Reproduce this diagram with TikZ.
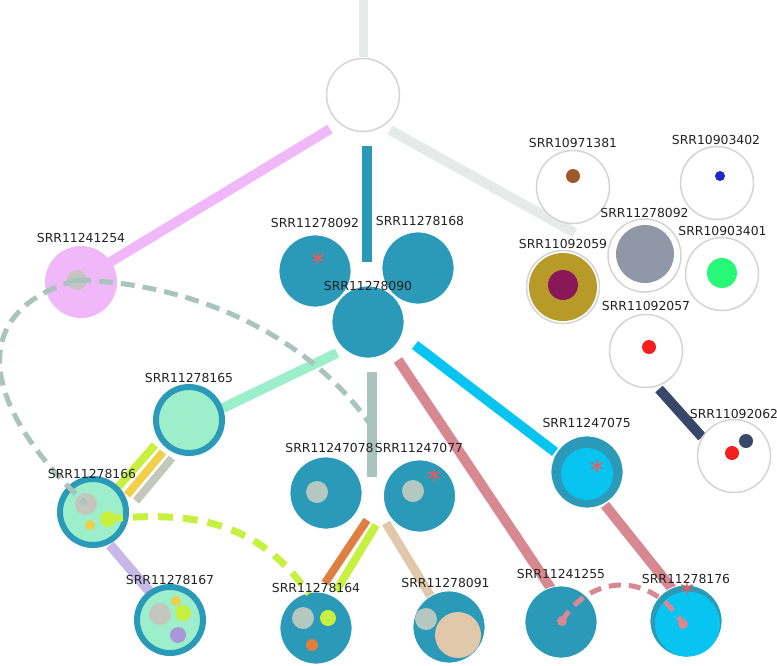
\documentclass[tikz,border=0pt]{standalone}
\usepackage{fontspec}
\setmainfont{DejaVu Sans}
\usetikzlibrary{calc}
\definecolor{cTeal}{HTML}{2A9AB8}
\definecolor{cMint}{HTML}{9DEFCB}
\definecolor{cPink}{HTML}{F0B8F8}
\definecolor{cCyan}{HTML}{08C4F0}
\definecolor{cGreyL}{HTML}{E6EAE9}
\definecolor{cGreyG}{HTML}{A8C4BC}
\definecolor{cRose}{HTML}{D88890}
\definecolor{cNavy}{HTML}{384868}
\definecolor{cLav}{HTML}{C8B8E8}
\definecolor{cYG}{HTML}{C8F040}
\definecolor{cYel}{HTML}{F0D048}
\definecolor{cGreyC}{HTML}{C4C8BC}
\definecolor{cOrange}{HTML}{E08040}
\definecolor{cTan}{HTML}{E2C8AA}
\definecolor{cInner}{HTML}{B4C8C0}
\definecolor{cGold}{HTML}{B89A28}
\definecolor{cMaroon}{HTML}{8A1858}
\definecolor{cSlate}{HTML}{9098A8}
\definecolor{cGreen}{HTML}{28F878}
\definecolor{cRed}{HTML}{F42020}
\definecolor{cBlue}{HTML}{2028C0}
\definecolor{cBrown}{HTML}{A05828}
\definecolor{cPurple}{HTML}{A898D8}
\definecolor{cAst}{HTML}{F05858}
\definecolor{cBorder}{HTML}{D4D4D4}
\definecolor{cText}{HTML}{222222}
\definecolor{cPinkGrey}{HTML}{C8C4C0}
\tikzset{
  tealnode/.style={circle, fill=cTeal, draw=white, line width=0.8pt, minimum size=72pt, inner sep=0pt, outer sep=0pt},
  mintnode/.style={circle, fill=cMint, draw=cTeal, line width=6pt, minimum size=66pt, inner sep=0pt, outer sep=0pt},
  whitenode/.style={circle, fill=white, draw=cBorder, line width=1.5pt, minimum size=73pt, inner sep=0pt, outer sep=0pt},
  spot/.style={circle, inner sep=0pt, outer sep=0pt, minimum size=#1},
  lab/.style={anchor=base, inner sep=0pt, text=cText, font=\fontsize{12.4}{14}\selectfont},
  wide/.style={line width=10pt},
  mid/.style={line width=8pt},
  dashgrey/.style={draw=cGreyG, line width=5pt, dash pattern=on 14pt off 8pt},
  dashyg/.style={draw=cYG, line width=7pt, dash pattern=on 15pt off 10pt},
  dashrose/.style={draw=cRose, line width=5pt, dash pattern=on 12pt off 8pt},
  astmark/.pic={\draw[cAst, line width=1.4pt] (0,-6.5)--(0,6.5) (-5.6,-3.25)--(5.6,3.25) (-5.6,3.25)--(5.6,-3.25);}
}
\begin{document}
\begin{tikzpicture}[x=1pt,y=-1pt]
\useasboundingbox (0,0) rectangle (777,665);
% ---------- node positions ----------
\coordinate (root) at (363,95);
\coordinate (n254) at (81,282);
\coordinate (n165) at (189,420);
\coordinate (n166) at (93,512);
\coordinate (n167) at (170,620);
\coordinate (n092) at (315,271);
\coordinate (n168) at (418,268);
\coordinate (n090) at (368,322);
\coordinate (n078) at (326,493);
\coordinate (n077) at (419.5,496);
\coordinate (n164) at (316,628);
\coordinate (n091) at (449,627);
\coordinate (n255) at (561,622);
\coordinate (n176) at (686,621);
\coordinate (n075) at (587,472);
\coordinate (n381) at (573,187);
\coordinate (n402) at (717,183);
\coordinate (r092) at (644.5,255.5);
\coordinate (n401) at (722,274);
\coordinate (n059) at (563,287);
\coordinate (n057) at (646,351);
\coordinate (n062) at (734,456);
\coordinate (g7) at (372,477);
% ---------- solid connectors ----------
\draw[wide, cGreyL, line width=9pt] ($(root)+(0,-96)$) -- ($(root)+(0,-38)$);
\draw[wide, cPink] ($(root)+(-33,34)$) -- ($(n254)+(26,-18)$);
\draw[wide, cTeal] ($(root)+(4,51)$) -- ($(n090)+(-1,-60)$);
\draw[wide, cGreyL] ($(root)+(27,35)$) -- ($(r092)+(-69.5,-22.5)$);
\draw[wide, cMint] ($(n090)+(-31,31)$) -- ($(n165)+(34,-12)$);
\draw[wide, cGreyG] ($(n090)+(4,50)$) -- (g7);
\draw[wide, cRose] ($(n090)+(30,38)$) -- ($(n255)+(-9,-32)$);
\draw[wide, cCyan] ($(n090)+(47,23)$) -- ($(n075)+(-32,-20)$);
\draw[wide, cRose] ($(n075)+(18,33)$) -- ($(n176)+(-13,-31)$);
\draw[wide, cNavy] ($(n057)+(13,38)$) -- ($(n062)+(-32,-19)$);
\draw[wide, cLav] ($(n166)+(17,33)$) -- ($(n167)+(-20,-28)$);
\draw[mid, cYG] ($(n165)+(-34,25)$) -- ($(n166)+(25,-25)$);
\draw[mid, cYel] ($(n165)+(-26,32)$) -- ($(n166)+(34,-17)$);
\draw[mid, cGreyC] ($(n165)+(-17,38)$) -- ($(n166)+(43,-11)$);
\draw[mid, cOrange] ($(n078)+(41,27)$) -- ($(n164)+(9,-45)$);
\draw[mid, cYG] ($(n078)+(50,32)$) -- ($(n164)+(20,-37)$);
\draw[line width=9pt, cTan] ($(n077)+(-33.5,27)$) -- ($(n091)+(-16,-27)$);
% ---------- circles ----------
\node[whitenode] (c-root) at (root) {};
\node[circle, fill=cPink, minimum size=72pt, inner sep=0pt] (c254) at (n254) {};
\node[mintnode] (c165) at (n165) {};
\node[mintnode] (c166) at (n166) {};
\node[mintnode] (c167) at (n167) {};
\node[tealnode] (c092) at (n092) {};
\node[tealnode] (c168) at (n168) {};
\node[tealnode] (c090) at (n090) {};
\node[tealnode] (c078) at (n078) {};
\node[tealnode] (c077) at (n077) {};
\node[tealnode] (c164) at (n164) {};
\node[tealnode] (c091) at (n091) {};
\node[tealnode] (c255) at (n255) {};
\node[tealnode] (c176) at (n176) {};
\node[tealnode] (c075) at (n075) {};
\node[whitenode] (c381) at (n381) {};
\node[whitenode] (c402) at (n402) {};
\node[whitenode] (c-r092) at (r092) {};
\node[whitenode] (c401) at (n401) {};
\node[whitenode] (c059) at (n059) {};
\node[whitenode] (c057) at (n057) {};
\node[whitenode] (c062) at (n062) {};
% ---------- inner spots ----------
\node[spot=20pt, fill=cPinkGrey] (s254) at (77,280) {};
\node[spot=22pt, fill=cGreyC] (s166a) at (86,504) {};
\node[spot=16pt, fill=cYG] (s166b) at (108,519) {};
\node[spot=10pt, fill=cYel] (s166c) at (90,525) {};
\node[spot=22pt, fill=cGreyC] (s167a) at (160,614) {};
\node[spot=10pt, fill=cYel] (s167b) at (176,601) {};
\node[spot=16pt, fill=cYG] (s167c) at (183,613) {};
\node[spot=16pt, fill=cPurple] (s167d) at (178,635) {};
\node[spot=22pt, fill=cInner] (s078) at (317,492) {};
\node[spot=22pt, fill=cInner] (s077) at (413,491) {};
\node[spot=22pt, fill=cInner] (s164a) at (303,618) {};
\node[spot=16pt, fill=cYG] (s164b) at (328,618) {};
\node[spot=12pt, fill=cOrange] (s164c) at (312,645) {};
\node[spot=22pt, fill=cInner] (s091a) at (426,619) {};
\node[spot=46pt, fill=cTan] (s091b) at (458,635) {};
\node[spot=52pt, fill=cCyan] (s075) at (587,474) {};
\node[spot=65pt, fill=cCyan] (s176) at (687.5,624) {};
\node[spot=10pt, fill=cRose] (s255) at (562,621) {};
\node[spot=10pt, fill=cRose] (s176b) at (683,624) {};
\node[spot=14pt, fill=cBrown] (s381) at (573,176) {};
\node[spot=10pt, fill=cBlue] (s402) at (720,176) {};
\node[spot=58pt, fill=cSlate] (sr092) at (645,254) {};
\node[spot=30pt, fill=cGreen] (s401) at (722,273) {};
\node[spot=68pt, fill=cGold] (s059a) at (563,287) {};
\node[spot=30pt, fill=cMaroon] (s059b) at (563,285) {};
\node[spot=14pt, fill=cRed] (s057) at (649,347) {};
\node[spot=14pt, fill=cRed] (s062a) at (732,453) {};
\node[spot=14pt, fill=cNavy] (s062b) at (746,441) {};
% ---------- dashed connectors ----------
\coordinate (e254) at (370,424);
\coordinate (e164) at (309,594);
\draw[dashgrey] (s254.center) .. controls (190,283) and (305,332) .. (e254);
\draw[dashgrey] (s254.center) .. controls (-30,310) and (-25,400) .. (s166a.center);
\draw[dashyg] (s166b.center) .. controls (200,510) and (260,525) .. (e164);
\draw[dashrose] (s255.center) .. controls (590,575) and (650,570) .. (s176b.center);
% ---------- asterisks ----------
\pic at (318,258) {astmark};
\pic at (434,475) {astmark};
\pic at (597,466) {astmark};
\pic at (687,588) {astmark};
% ---------- labels ----------
\node[lab] (l254) at (81,242) {SRR11241254};
\node[lab] (l165) at (189,382) {SRR11278165};
\node[lab] (l166) at (92,478) {SRR11278166};
\node[lab] (l167) at (170,584) {SRR11278167};
\node[lab] (l092) at (315,227) {SRR11278092};
\node[lab] (l168) at (420,225) {SRR11278168};
\node[lab] (l090) at (368,290) {SRR11278090};
\node[lab] (l078) at (329.5,452) {SRR11247078};
\node[lab] (l077) at (419,452) {SRR11247077};
\node[lab] (l164) at (316,592) {SRR11278164};
\node[lab] (l091) at (445.5,587) {SRR11278091};
\node[lab] (l255) at (561,578) {SRR11241255};
\node[lab] (l176) at (686,583) {SRR11278176};
\node[lab] (l075) at (586.7,427) {SRR11247075};
\node[lab] (l062) at (734,418) {SRR11092062};
\node[lab] (l381) at (573,147) {SRR10971381};
\node[lab] (l402) at (716,144) {SRR10903402};
\node[lab] (lr092) at (644.5,217) {SRR11278092};
\node[lab] (l401) at (722.5,235) {SRR10903401};
\node[lab] (l059) at (563,248) {SRR11092059};
\node[lab] (l057) at (646,310) {SRR11092057};
\end{tikzpicture}
\end{document}
